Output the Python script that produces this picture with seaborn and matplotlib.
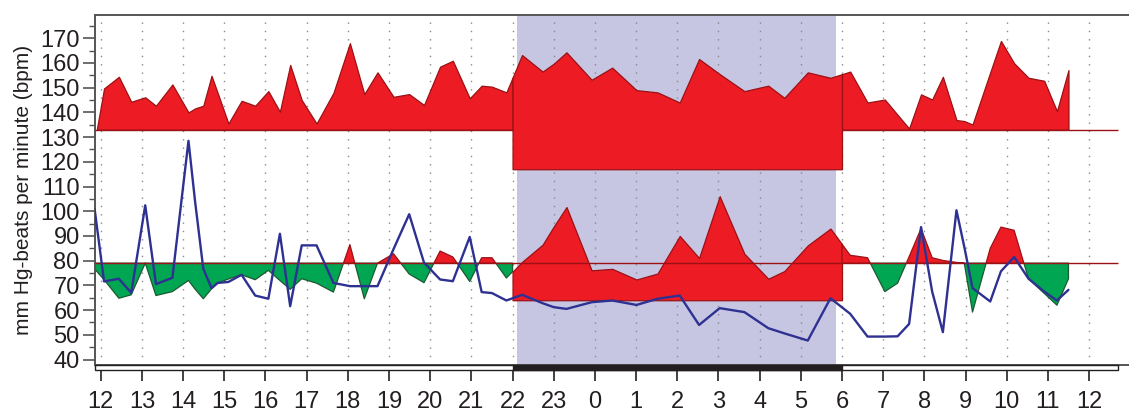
import numpy as np
import seaborn as sns
import matplotlib.pyplot as plt
from matplotlib.patches import Rectangle
from matplotlib.ticker import MultipleLocator

# clock hours of each reading; values above 24 are the next morning
times = [11.85, 12.08, 12.44, 12.74, 13.08, 13.34, 13.74, 14.13, 14.29, 14.49,
         14.69, 14.84, 15.10, 15.42, 15.75, 16.07, 16.35, 16.60, 16.88, 17.24,
         17.65, 18.05, 18.40, 18.72, 19.11, 19.49, 19.85, 20.24, 20.55, 20.96,
         21.25, 21.50, 21.85,
         22.23, 22.73, 23.00, 23.31, 23.92, 24.42, 25.01, 25.52, 26.06, 26.53,
         27.03, 27.63, 28.21, 28.60, 29.17, 29.72,
         30.20, 30.62, 31.04, 31.35, 31.63, 31.92, 32.19, 32.45, 32.78, 32.97,
         33.17, 33.60, 33.86, 34.18, 34.53, 34.91, 35.22, 35.50]

systolic = [128, 149.7, 154.4, 144.3, 146.1, 142.7, 151.3, 140, 141.6, 142.7,
            154.8, 147.8, 135.5, 144.7, 142.7, 148.6, 140.3, 159.2, 145, 135.5,
            147.9, 168, 147.4, 156.2, 146.3, 147.4, 143, 158.5, 160.9, 145.7,
            150.8, 150.4, 148.1,
            163.2, 156.5, 159.7, 164.3, 153.2, 158.1, 149, 148.1, 144, 161.6,
            155.5, 148.6, 150.8, 145.9, 156.2, 154,
            156.5, 144, 145.2, 139, 133.5, 147.3, 145.2, 154.4, 136.9, 136.5,
            135.1, 156.2, 168.9, 159.9, 154, 152.8, 140.5, 157.1]

diastolic = [76.7, 72.3, 64.8, 66.2, 79, 65.9, 67.5, 72, 68.5, 64.6,
             68.6, 71, 72.6, 74.3, 72.3, 76.1, 72, 68.4, 72.7, 70.9,
             67.3, 86.5, 64.6, 79, 82.8, 74.6, 71.1, 83.9, 81.5, 71.6,
             81.2, 81.2, 73,
             79.5, 86.5, 93.8, 101.7, 76.1, 76.7, 72.4, 74.8, 90, 81.1,
             106.1, 82.8, 72.7, 75.8, 86.2, 93,
             82.2, 81.2, 67.5, 70.9, 81.6, 93, 81.2, 80.1, 79.3, 79,
             59.2, 85, 93.6, 92.3, 72.7, 66.8, 62, 72.7]

heart_rate = [101, 71.6, 72.7, 67, 102.4, 70.5, 73.1, 128.5, 104, 76.7,
              68.9, 71, 71.4, 74.3, 65.9, 64.6, 90.9, 61.6, 86.2, 86.2,
              71, 69.7, 69.7, 69.7, 84.7, 98.8, 79.2, 72.4, 71.7, 89.6,
              67.3, 66.9, 63.9,
              66.2, 62.8, 61.2, 60.5, 63.2, 63.9, 62.1, 64.6, 65.9, 54,
              60.8, 59.2, 52.7, 50.6, 47.7, 64.8,
              58.5, 49.3, 49.3, 49.4, 54.4, 93.6, 67.5, 51.1, 100.4, 85.6,
              68.9, 63.5, 75.7, 81.5, 72.7, 67.5, 63.9, 68.2]

sys_limit_day, sys_limit_night = 133, 117
dia_limit_day, dia_limit_night = 79, 64
night_start, night_end = 22, 30        # limits switch at 22:00 and 06:00
sleep_start, sleep_end = 22.12, 29.85  # shaded sleep period
chart_start, chart_end, record_end = 11.86, 36.97, 36.7
hour_ticks = list(range(12, 37))
hour_labels = [str(h % 24) for h in hour_ticks]

RED, DARK_RED = "#ed1c24", "#9b1115"
GREEN, DARK_GREEN = "#00a651", "#1d5a33"
BLUE = "#2e3192"
NIGHT = "#c6c6e2"
INK = "#231f20"


def fill_limits(ax, x, y, day, night, with_below=False):
    x = np.asarray(x, float)
    y = np.asarray(y, float)
    segments = [(x[0], night_start, day), (night_start, night_end, night),
                (night_end, x[-1], day)]
    for a, b, lim in segments:
        inside = (x > a) & (x < b)
        xs = np.concatenate([[a], x[inside], [b]])
        ys = np.interp(xs, x, y)
        ax.fill_between(xs, ys, lim, where=ys >= lim, interpolate=True,
                        facecolor=RED, edgecolor=DARK_RED, lw=0.9, zorder=2)
        if with_below:
            ax.fill_between(xs, ys, lim, where=ys <= lim, interpolate=True,
                            facecolor=GREEN, edgecolor=DARK_GREEN, lw=0.9, zorder=2)


sns.set_theme(style="white")
plt.rcParams["font.family"] = ["Liberation Sans", "DejaVu Sans"]

fig = plt.figure(figsize=(11.29, 4.15), dpi=100)
ax = fig.add_axes([95 / 1129, 50 / 415, 1 - 95 / 1129, 350 / 415])

ax.axvspan(sleep_start, sleep_end, color=NIGHT, lw=0, zorder=0.2)

fill_limits(ax, times, systolic, sys_limit_day, sys_limit_night)
fill_limits(ax, times, diastolic, dia_limit_day, dia_limit_night, with_below=True)

# limit lines
ax.hlines(sys_limit_day, chart_start, night_start, color=DARK_RED, lw=1.0, zorder=3)
ax.hlines(sys_limit_day, night_end, record_end, color=DARK_RED, lw=1.0, zorder=3)
ax.hlines(dia_limit_day, chart_start, record_end, color=DARK_RED, lw=1.0, zorder=3)

sns.lineplot(x=times, y=heart_rate, color=BLUE, lw=1.7, sort=False,
             estimator=None, ax=ax, zorder=4)

ax.set_xlim(chart_start, chart_end)
ax.set_xticks(hour_ticks)
ax.set_xticklabels(hour_labels)
ax.yaxis.set_major_locator(MultipleLocator(10))
ax.yaxis.set_minor_locator(MultipleLocator(5))
ax.set_yticks(range(40, 171, 10))
ax.set_ylim(37.8, 179.4)

ax.set_axisbelow(True)
ax.grid(axis="x", linestyle=(0, (1, 5)), color="#8a8a8a", lw=1.0)
ax.grid(axis="y", visible=False)

ax.tick_params(axis="x", bottom=True, direction="out", length=11.5, width=1.3,
               color="#333333", pad=7, labelsize=17, labelcolor=INK)
ax.tick_params(axis="y", which="major", left=True, direction="out", length=9,
               width=1.2, color="#555555", pad=2, labelsize=17, labelcolor=INK)
ax.tick_params(axis="y", which="minor", left=True, direction="out", length=4,
               width=1.0, color="#555555")

for side in ["left", "top", "bottom"]:
    ax.spines[side].set_color("#555555")
    ax.spines[side].set_linewidth(1.4)
ax.spines["right"].set_visible(False)

ax.set_ylabel("mm Hg-beats per minute (bpm)", fontsize=15, color=INK, labelpad=5)
ax.set_xlabel("")

# day / night bar under the plot
trans = ax.get_xaxis_transform()
bar_h = 5 / 350
ax.add_patch(Rectangle((chart_start, -bar_h), record_end - chart_start, bar_h,
                       transform=trans, facecolor="white", edgecolor="#231f20",
                       lw=1.0, clip_on=False, zorder=5))
ax.add_patch(Rectangle((night_start, -bar_h), night_end - night_start, bar_h,
                       transform=trans, facecolor="#231f20", edgecolor="#231f20",
                       lw=1.0, clip_on=False, zorder=6))

fig.savefig("out.png", dpi=100)
